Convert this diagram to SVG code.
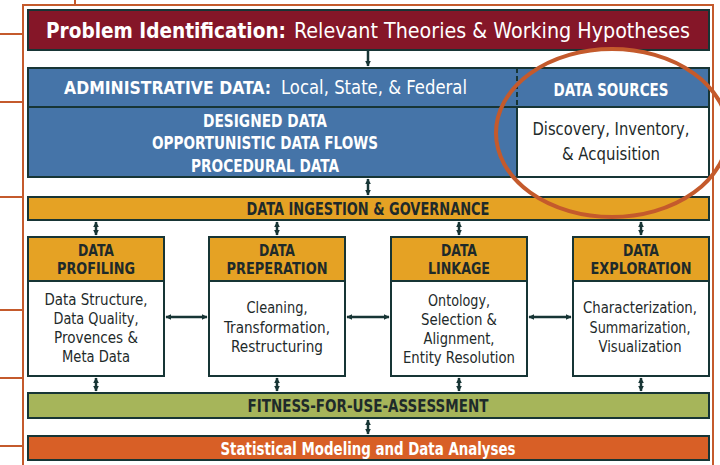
<svg xmlns="http://www.w3.org/2000/svg" width="720" height="465" viewBox="0 0 720 465">
<defs>
<style>
.frame{fill:none;stroke:#c45a2c;stroke-width:2}
.box{stroke:#173535;stroke-width:2}
.c{stroke:#173535;stroke-width:2.5;fill:none}
.b{font-family:"Liberation Sans Narrow","DejaVu Sans Condensed","Liberation Sans",sans-serif;font-weight:bold}
.r{font-family:"Liberation Sans Narrow","DejaVu Sans Condensed","Liberation Sans",sans-serif}
.w{fill:#ffffff}
.d{fill:#1e2a2a}
.m{text-anchor:middle}
</style>
<marker id="ah" viewBox="0 0 10 10" refX="9" refY="5" markerWidth="2.4" markerHeight="2.4" orient="auto-start-reverse" markerUnits="strokeWidth">
<path d="M0,0 L10,5 L0,10 z" fill="#173535"/>
</marker>
</defs>
<rect width="720" height="465" fill="#ffffff"/>
<g id="frame">
<path class="frame" d="M23,465 V5 H713 V465"/>
<path class="frame" d="M75,0 V5"/>
<path class="frame" d="M0,34 H23 M0,102 H23 M0,197 H23 M0,310 H23 M0,378 H23 M0,446 H23"/>
</g>
<g id="problem">
<rect class="box" x="28" y="10" width="681" height="40" fill="#851628"/>
<text class="b w" x="46" y="38" font-size="22" textLength="240" lengthAdjust="spacingAndGlyphs">Problem Identification:</text>
<text class="r w" x="294" y="38" font-size="22" textLength="396" lengthAdjust="spacingAndGlyphs">Relevant Theories &amp; Working Hypotheses</text>
</g>
<g id="admin">
<rect class="box" x="28" y="68" width="681" height="109" fill="#4574a8"/>
<line x1="28" y1="107" x2="709" y2="107" stroke="#173535" stroke-width="2"/>
<text class="b w" x="64" y="94" font-size="18.5" textLength="207" lengthAdjust="spacingAndGlyphs">ADMINISTRATIVE DATA:</text>
<text class="r w" x="281" y="94" font-size="19.5" textLength="186" lengthAdjust="spacingAndGlyphs">Local, State, &amp; Federal</text>
<text class="b w m" x="265" y="127" font-size="17" textLength="124" lengthAdjust="spacingAndGlyphs">DESIGNED DATA</text>
<text class="b w m" x="265" y="149" font-size="17" textLength="226" lengthAdjust="spacingAndGlyphs">OPPORTUNISTIC DATA FLOWS</text>
<text class="b w m" x="265" y="172" font-size="17" textLength="148" lengthAdjust="spacingAndGlyphs">PROCEDURAL DATA</text>
</g>
<g id="sources">
<rect x="517" y="107" width="192" height="70" fill="#ffffff" class="box"/>
<line x1="517" y1="68" x2="517" y2="177" stroke="#173535" stroke-width="2" stroke-dasharray="5,3"/>
<text class="b w m" x="611" y="96" font-size="18" textLength="115" lengthAdjust="spacingAndGlyphs">DATA SOURCES</text>
<text class="r d m" x="611" y="135" font-size="18" textLength="157" lengthAdjust="spacingAndGlyphs">Discovery, Inventory,</text>
<text class="r d m" x="611" y="160" font-size="18" textLength="98" lengthAdjust="spacingAndGlyphs">&amp; Acquisition</text>
</g>
<g id="ingestion">
<rect class="box" x="28" y="197" width="681" height="23" fill="#e5a224"/>
<text class="b d m" x="368" y="215" font-size="17" textLength="243" lengthAdjust="spacingAndGlyphs">DATA INGESTION &amp; GOVERNANCE</text>
</g>
<g id="profiling">
<rect class="box" x="28" y="237" width="136" height="139" fill="#ffffff"/>
<rect class="box" x="28" y="237" width="136" height="44" fill="#e5a224"/>
<text class="b d m" x="96" y="256" font-size="15.5" textLength="36" lengthAdjust="spacingAndGlyphs">DATA</text>
<text class="b d m" x="96" y="274" font-size="15.5" textLength="78" lengthAdjust="spacingAndGlyphs">PROFILING</text>
<text class="r d m" x="96" y="305" font-size="16" textLength="103" lengthAdjust="spacingAndGlyphs">Data Structure,</text>
<text class="r d m" x="96" y="324" font-size="16" textLength="85" lengthAdjust="spacingAndGlyphs">Data Quality,</text>
<text class="r d m" x="96" y="343" font-size="16" textLength="84" lengthAdjust="spacingAndGlyphs">Provences &amp;</text>
<text class="r d m" x="96" y="362" font-size="16" textLength="68" lengthAdjust="spacingAndGlyphs">Meta Data</text>
</g>
<g id="preparation">
<rect class="box" x="209" y="237" width="136" height="139" fill="#ffffff"/>
<rect class="box" x="209" y="237" width="136" height="44" fill="#e5a224"/>
<text class="b d m" x="277" y="256" font-size="15.5" textLength="36" lengthAdjust="spacingAndGlyphs">DATA</text>
<text class="b d m" x="277" y="274" font-size="15.5" textLength="101" lengthAdjust="spacingAndGlyphs">PREPERATION</text>
<text class="r d m" x="277" y="313" font-size="16" textLength="61" lengthAdjust="spacingAndGlyphs">Cleaning,</text>
<text class="r d m" x="277" y="333" font-size="16" textLength="106" lengthAdjust="spacingAndGlyphs">Transformation,</text>
<text class="r d m" x="277" y="352" font-size="16" textLength="92" lengthAdjust="spacingAndGlyphs">Restructuring</text>
</g>
<g id="linkage">
<rect class="box" x="391" y="237" width="136" height="139" fill="#ffffff"/>
<rect class="box" x="391" y="237" width="136" height="44" fill="#e5a224"/>
<text class="b d m" x="459" y="256" font-size="15.5" textLength="36" lengthAdjust="spacingAndGlyphs">DATA</text>
<text class="b d m" x="459" y="274" font-size="15.5" textLength="62" lengthAdjust="spacingAndGlyphs">LINKAGE</text>
<text class="r d m" x="459" y="306" font-size="16" textLength="62" lengthAdjust="spacingAndGlyphs">Ontology,</text>
<text class="r d m" x="459" y="325" font-size="16" textLength="76" lengthAdjust="spacingAndGlyphs">Selection &amp;</text>
<text class="r d m" x="459" y="344" font-size="16" textLength="71" lengthAdjust="spacingAndGlyphs">Alignment,</text>
<text class="r d m" x="459" y="363" font-size="16" textLength="112" lengthAdjust="spacingAndGlyphs">Entity Resolution</text>
</g>
<g id="exploration">
<rect class="box" x="573" y="237" width="136" height="139" fill="#ffffff"/>
<rect class="box" x="573" y="237" width="136" height="44" fill="#e5a224"/>
<text class="b d m" x="641" y="256" font-size="15.5" textLength="36" lengthAdjust="spacingAndGlyphs">DATA</text>
<text class="b d m" x="641" y="274" font-size="15.5" textLength="101" lengthAdjust="spacingAndGlyphs">EXPLORATION</text>
<text class="r d m" x="640" y="313" font-size="16" textLength="114" lengthAdjust="spacingAndGlyphs">Characterization,</text>
<text class="r d m" x="640" y="333" font-size="16" textLength="101" lengthAdjust="spacingAndGlyphs">Summarization,</text>
<text class="r d m" x="640" y="352" font-size="16" textLength="83" lengthAdjust="spacingAndGlyphs">Visualization</text>
</g>
<g id="fitness">
<rect class="box" x="28" y="393" width="681" height="25" fill="#a6b55a"/>
<text class="b d m" x="368" y="412" font-size="17" textLength="241" lengthAdjust="spacingAndGlyphs">FITNESS-FOR-USE-ASSESSMENT</text>
</g>
<g id="modeling">
<rect class="box" x="28" y="436" width="681" height="24" fill="#d85f26"/>
<text class="b w m" x="368" y="455" font-size="17" textLength="295" lengthAdjust="spacingAndGlyphs">Statistical Modeling and Data Analyses</text>
</g>
<g id="connectors">
<line class="c" x1="368" y1="51" x2="368" y2="66" marker-end="url(#ah)"/>
<line class="c" x1="368" y1="179" x2="368" y2="195" marker-start="url(#ah)" marker-end="url(#ah)"/>
<line class="c" x1="96" y1="222" x2="96" y2="235" marker-start="url(#ah)" marker-end="url(#ah)"/>
<line class="c" x1="277" y1="222" x2="277" y2="235" marker-start="url(#ah)" marker-end="url(#ah)"/>
<line class="c" x1="459" y1="222" x2="459" y2="235" marker-start="url(#ah)" marker-end="url(#ah)"/>
<line class="c" x1="641" y1="222" x2="641" y2="235" marker-start="url(#ah)" marker-end="url(#ah)"/>
<line class="c" x1="166" y1="317" x2="207" y2="317" marker-start="url(#ah)" marker-end="url(#ah)"/>
<line class="c" x1="347" y1="317" x2="389" y2="317" marker-start="url(#ah)" marker-end="url(#ah)"/>
<line class="c" x1="529" y1="317" x2="571" y2="317" marker-start="url(#ah)" marker-end="url(#ah)"/>
<line class="c" x1="96" y1="378" x2="96" y2="391" marker-start="url(#ah)" marker-end="url(#ah)"/>
<line class="c" x1="277" y1="378" x2="277" y2="391" marker-start="url(#ah)" marker-end="url(#ah)"/>
<line class="c" x1="459" y1="378" x2="459" y2="391" marker-start="url(#ah)" marker-end="url(#ah)"/>
<line class="c" x1="641" y1="378" x2="641" y2="391" marker-start="url(#ah)" marker-end="url(#ah)"/>
<line class="c" x1="368" y1="420" x2="368" y2="434" marker-start="url(#ah)" marker-end="url(#ah)"/>
</g>
<ellipse id="highlight" cx="612" cy="133" rx="116" ry="84" fill="none" stroke="#c45a2c" stroke-width="4"/>
</svg>
